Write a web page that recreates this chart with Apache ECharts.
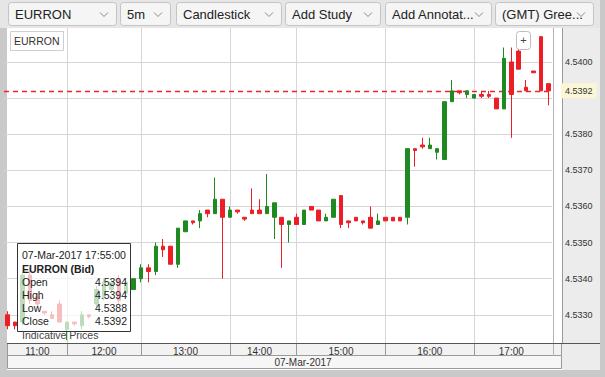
<!DOCTYPE html>
<html>
<head>
<meta charset="utf-8">
<script src="https://cdn.jsdelivr.net/npm/echarts@6/dist/echarts.min.js"></script>
<style>
  html, body { margin: 0; padding: 0; background: #fff; }
  #main { width: 605px; height: 377px; }
</style>
</head>
<body>
<div id="main"></div>
<script>
// 5 minute bars, 07-Mar-2017
var times = [
  '11:20', '11:25', '11:30', '11:35', '11:40', '11:45', '11:50', '11:55',
  '12:00', '12:05', '12:10', '12:15', '12:20', '12:25', '12:30', '12:35', '12:40', '12:45',
  '13:00', '13:05', '13:10', '13:15', '13:20', '13:25', '13:30', '13:35', '13:40', '13:45', '13:50', '13:55',
  '14:00', '14:05', '14:10', '14:15', '14:20', '14:25', '14:30', '14:35', '14:40',
  '15:00', '15:05', '15:10', '15:15', '15:20', '15:25', '15:30', '15:35', '15:40', '15:45', '15:50', '15:55',
  '16:00', '16:05', '16:10', '16:15', '16:20', '16:25', '16:30', '16:35', '16:40', '16:45', '16:50', '16:55',
  '17:00', '17:05', '17:10', '17:15', '17:20', '17:25', '17:30', '17:35', '17:45', '17:50', '17:55'
]
var opens = [
  4.5330, 4.5328, 4.5328, 4.5341, 4.5335, 4.5331, 4.5330, 4.5333,
  4.5326, 4.5328, 4.5327, 4.5330, 4.5333, 4.5335, 4.5337, 4.5340, 4.5336, 4.5337,
  4.5340, 4.5343, 4.5342, 4.5349, 4.5349, 4.5344, 4.5353, 4.5356, 4.5356, 4.5359, 4.5358, 4.5362,
  4.5357, 4.5359, 4.5357, 4.5359, 4.5359, 4.5358, 4.5357, 4.5357, 4.5355,
  4.5357, 4.5355, 4.5360, 4.5359, 4.5356, 4.5357, 4.5363, 4.5356, 4.5357, 4.5356, 4.5357, 4.5355,
  4.5357, 4.5357, 4.5357, 4.5357, 4.5376, 4.5377, 4.5376, 4.5375, 4.5373, 4.5389, 4.5392, 4.5391,
  4.5390, 4.5391, 4.5391, 4.5390, 4.5387, 4.5400, 4.5403, 4.5393, 4.53975, 4.5407, 4.5394
]
var closes = [
  4.5327, 4.5327, 4.5341, 4.5334, 4.5333, 4.53305, 4.5329, 4.5328,
  4.5328, 4.53275, 4.5330, 4.53295, 4.5337, 4.5339, 4.5339, 4.5334, 4.5339, 4.5340,
  4.5343, 4.5342, 4.5349, 4.5348, 4.5344, 4.5354, 4.5356, 4.53555, 4.5358, 4.5358, 4.5362, 4.5357,
  4.5359, 4.53585, 4.53565, 4.5358, 4.5358, 4.5360, 4.5361, 4.5355, 4.5356,
  4.5355, 4.5359, 4.5359, 4.5356, 4.5357, 4.5362, 4.5355, 4.53555, 4.5356, 4.53555, 4.5354, 4.5356,
  4.5356, 4.5356, 4.5356, 4.5376, 4.53755, 4.53765, 4.5377, 4.5376, 4.5389, 4.5392, 4.53915, 4.5392,
  4.5391, 4.53905, 4.53905, 4.5387, 4.5401, 4.5391, 4.5398, 4.5392, 4.5397, 4.5392, 4.5392
]
var lows = [
  4.5326, 4.5326, 4.5327, 4.5333, 4.5332, 4.5330, 4.5329, 4.5328,
  4.5323, 4.5327, 4.5326, 4.5329, 4.5332, 4.5334, 4.5336, 4.5333, 4.5335, 4.5337,
  4.5339, 4.5339, 4.5341, 4.5346, 4.5344, 4.5343, 4.5353, 4.5355, 4.5354, 4.5357, 4.5358, 4.5340,
  4.5357, 4.5358, 4.5356, 4.5358, 4.5358, 4.5358, 4.5351, 4.5343, 4.5350,
  4.5355, 4.5355, 4.5359, 4.5356, 4.5356, 4.5357, 4.5354, 4.5354, 4.5356, 4.5355, 4.5354, 4.5355,
  4.5356, 4.5356, 4.5356, 4.5355, 4.5371, 4.5376, 4.5376, 4.5373, 4.5373, 4.5389, 4.5391, 4.5390,
  4.5390, 4.5390, 4.5390, 4.5387, 4.5387, 4.5379, 4.5398, 4.5392, 4.5397, 4.5392, 4.5388
]
var highs = [
  4.5331, 4.5328, 4.5342, 4.5343, 4.5336, 4.5331, 4.5331, 4.5334,
  4.5328, 4.5328, 4.5331, 4.5330, 4.5338, 4.5340, 4.5340, 4.5341, 4.5339, 4.5340,
  4.5344, 4.5344, 4.5350, 4.5351, 4.5349, 4.5354, 4.5356, 4.5356, 4.5359, 4.5359, 4.5368, 4.5362,
  4.5360, 4.5359, 4.5357, 4.5365, 4.5362, 4.5369, 4.5361, 4.5357, 4.5356,
  4.5358, 4.5359, 4.5360, 4.5359, 4.5358, 4.5362, 4.5363, 4.5356, 4.5357, 4.5356, 4.5360, 4.5358,
  4.5357, 4.5357, 4.5357, 4.5376, 4.5376, 4.5379, 4.5379, 4.5376, 4.5389, 4.5395, 4.5392, 4.5392,
  4.5391, 4.5392, 4.5392, 4.5390, 4.5404, 4.5404, 4.5404, 4.5395, 4.53975, 4.5407, 4.5394
]
var gridPrices = [4.5330, 4.5340, 4.5350, 4.5360, 4.5370, 4.5380, 4.5390, 4.5400]
var labelPrices = [4.5330, 4.5340, 4.5350, 4.5360, 4.5370, 4.5380, 4.5400]
var hourStarts = ['12:00', '13:00', '14:00', '15:00', '16:00', '17:00']
var hourLabels = ['11:00', '12:00', '13:00', '14:00', '15:00', '16:00', '17:00']
var hourLabelAt = ['11:40', '12:25', '13:30', '14:20', '15:30', '16:30', '17:25']
var lastPrice = 4.5392
var symbol = 'EURRON'
var dateText = '07-Mar-2017'
var tipTime = '07-Mar-2017 17:55:00'

var UP = '#1f8a22'
var DOWN = '#ec1f27'
var FONT = '"Liberation Sans", Arial, sans-serif'

var candles = []
for (var i = 0; i < times.length; i++) {
  candles.push([opens[i], closes[i], lows[i], highs[i]])
}
var n = times.length - 1
var tipRows = [
  ['Open', opens[n]], ['High', highs[n]], ['Low', lows[n]], ['Close', closes[n]]
]
var tickIdx = hourStarts.map(function (t) { return times.indexOf(t) })
var labelIdx = hourLabelAt.map(function (t) { return times.indexOf(t) })

// ---- toolbar buttons ----
var buttons = [
  { text: symbol, x: 8, w: 108 },
  { text: '5m', x: 120, w: 50 },
  { text: 'Candlestick', x: 176, w: 105 },
  { text: 'Add Study', x: 285, w: 95 },
  { text: 'Add Annotat...', x: 385, w: 106 },
  { text: '(GMT) Gree...', x: 495, w: 98 }
]
var graphics = [
  { type: 'rect', z: 1, shape: { x: 0, y: 0, width: 605, height: 28 }, style: { fill: '#e6e6e6' } },
  { type: 'rect', z: 1, shape: { x: 0, y: 28, width: 7, height: 349 }, style: { fill: '#c9c9c9' } },
  { type: 'rect', z: 1, shape: { x: 562, y: 28, width: 38, height: 342 }, style: { fill: '#ececec' } },
  { type: 'rect', z: 1, shape: { x: 600, y: 0, width: 5, height: 377 }, style: { fill: '#c9c9c9' } },
  { type: 'rect', z: 1, shape: { x: 0, y: 370, width: 605, height: 7 }, style: { fill: '#c9c9c9' } },
  // time / date rows
  { type: 'rect', z: 1, shape: { x: 7.5, y: 343.5, width: 554, height: 12 }, style: { fill: '#f2f2f2', stroke: '#9a9a9a', lineWidth: 1 } },
  { type: 'rect', z: 1, shape: { x: 7.5, y: 355.5, width: 554, height: 13 }, style: { fill: '#f6f6f6', stroke: '#9a9a9a', lineWidth: 1 } },
  { type: 'text', z: 20, x: 303, y: 362, style: { text: dateText, font: '10px ' + FONT, fill: '#333', align: 'center', verticalAlign: 'middle' } },
  { type: 'line', z: 2, shape: { x1: 553.5, y1: 28, x2: 553.5, y2: 356 }, style: { stroke: '#b4b4b4', lineWidth: 1 } },
  { type: 'line', z: 4, shape: { x1: 7, y1: 343.5, x2: 600, y2: 343.5 }, style: { stroke: '#555', lineWidth: 1 } },
  { type: 'line', z: 4, shape: { x1: 562.5, y1: 28, x2: 562.5, y2: 343 }, style: { stroke: '#9a9a9a', lineWidth: 1 } },
  // symbol box
  { type: 'rect', z: 20, shape: { x: 10.5, y: 31.5, width: 53, height: 19 }, style: { fill: '#fff', stroke: '#cfcfcf', lineWidth: 1 } },
  { type: 'text', z: 21, x: 14, y: 41, style: { text: symbol, font: '10.5px ' + FONT, fill: '#333', verticalAlign: 'middle' } },
  // zoom button
  { type: 'rect', z: 20, shape: { x: 516.5, y: 31.5, width: 14, height: 18, r: 3 }, style: { fill: '#fff', stroke: '#bdbdbd', lineWidth: 1 } },
  { type: 'text', z: 21, x: 523.5, y: 40, style: { text: '+', font: '11px ' + FONT, fill: '#444', align: 'center', verticalAlign: 'middle' } }
]
buttons.forEach(function (b) {
  graphics.push({ type: 'rect', z: 20, shape: { x: b.x + 0.5, y: 2.5, width: b.w, height: 23, r: 3 },
    style: { fill: '#f5f5f5', stroke: '#c4c4c4', lineWidth: 1 } })
  graphics.push({ type: 'text', z: 21, x: b.x + 7, y: 14.5,
    style: { text: b.text, font: '13px ' + FONT, fill: '#222', verticalAlign: 'middle' } })
  var cx = b.x + b.w - 12
  graphics.push({ type: 'polyline', z: 21, shape: { points: [[cx - 4, 12.5], [cx, 16.5], [cx + 4, 12.5]] },
    style: { stroke: '#8a8a8a', lineWidth: 1, fill: null } })
})
// info box over the chart
var tip = [
  { type: 'rect', z: 30, shape: { x: 17.5, y: 243.5, width: 113, height: 88 },
    style: { fill: 'rgba(255,255,255,0.7)', stroke: '#333', lineWidth: 1 } },
  { type: 'text', z: 31, x: 22, y: 255, style: { text: tipTime, font: '10.5px ' + FONT, fill: '#222', verticalAlign: 'middle' } },
  { type: 'text', z: 31, x: 22, y: 268.5, style: { text: symbol + ' (Bid)', font: 'bold 10.5px ' + FONT, fill: '#222', verticalAlign: 'middle' } }
]
tipRows.forEach(function (r, k) {
  var y = 282 + k * 13
  tip.push({ type: 'text', z: 31, x: 22, y: y, style: { text: r[0], font: '10.5px ' + FONT, fill: '#222', verticalAlign: 'middle' } })
  tip.push({ type: 'text', z: 31, x: 127, y: y, style: { text: r[1].toFixed(4), font: '10.5px ' + FONT, fill: '#222', align: 'right', verticalAlign: 'middle' } })
})
tip.push({ type: 'text', z: 31, x: 22, y: 335, style: { text: 'Indicative Prices', font: '10.5px ' + FONT, fill: '#444', verticalAlign: 'middle' } })
graphics = graphics.concat(tip)

var myChart = echarts.init(document.getElementById('main'), null, { renderer: 'svg' })
myChart.setOption({
  animation: false,
  backgroundColor: '#fff',
  textStyle: { fontFamily: FONT },
  grid: { left: 4, top: 28, width: 548, height: 315, containLabel: false },
  xAxis: {
    type: 'category',
    data: times,
    boundaryGap: true,
    z: 3,
    axisLine: { show: false },
    axisTick: {
      show: true,
      alignWithLabel: true,
      length: 12,
      interval: function (idx) { return tickIdx.indexOf(idx) >= 0 },
      lineStyle: { color: '#9a9a9a' }
    },
    axisLabel: {
      interval: function (idx) { return labelIdx.indexOf(idx) >= 0 },
      formatter: function (v, idx) { return hourLabels[labelIdx.indexOf(idx)] },
      fontSize: 10,
      color: '#333',
      margin: 3
    },
    splitLine: { show: false }
  },
  yAxis: {
    type: 'value',
    position: 'right',
    offset: 10,
    min: 4.53222,
    max: 4.54094,
    z: 3,
    axisLine: { show: false },
    axisTick: { show: false, customValues: gridPrices },
    axisLabel: {
      customValues: labelPrices,
      formatter: function (v) { return v.toFixed(4) },
      fontSize: 9,
      color: '#333',
      margin: 3
    },
    splitLine: { show: true, lineStyle: { color: '#d6d6d6', width: 1 } }
  },
  series: [
    {
      // hour grid lines
      type: 'line',
      z: 2,
      data: [],
      silent: true,
      markLine: {
        silent: true,
        symbol: 'none',
        label: { show: false },
        lineStyle: { color: '#d6d6d6', type: 'solid', width: 1 },
        data: hourStarts.map(function (t) { return { xAxis: t } })
      }
    },
    {
      type: 'candlestick',
      name: symbol,
      z: 5,
      data: candles,
      barWidth: 4,
      clip: false,
      itemStyle: {
        color: UP,
        color0: DOWN,
        borderColor: UP,
        borderColor0: DOWN,
        borderWidth: 1
      }
    },
    {
      // last price line
      type: 'line',
      z: 6,
      color: DOWN,
      data: [],
      silent: true,
      markLine: {
        silent: true,
        symbol: 'none',
        precision: 4,
        lineStyle: { color: '#f0242c', type: [5, 4], width: 1.3, opacity: 1 },
        label: {
          show: true,
          position: 'end',
          distance: 9,
          formatter: lastPrice.toFixed(4),
          backgroundColor: '#fbf7d6',
          color: '#333',
          fontSize: 9,
          padding: [3, 4]
        },
        data: [{ yAxis: lastPrice }]
      }
    }
  ],
  graphic: graphics
})
</script>
</body>
</html>
